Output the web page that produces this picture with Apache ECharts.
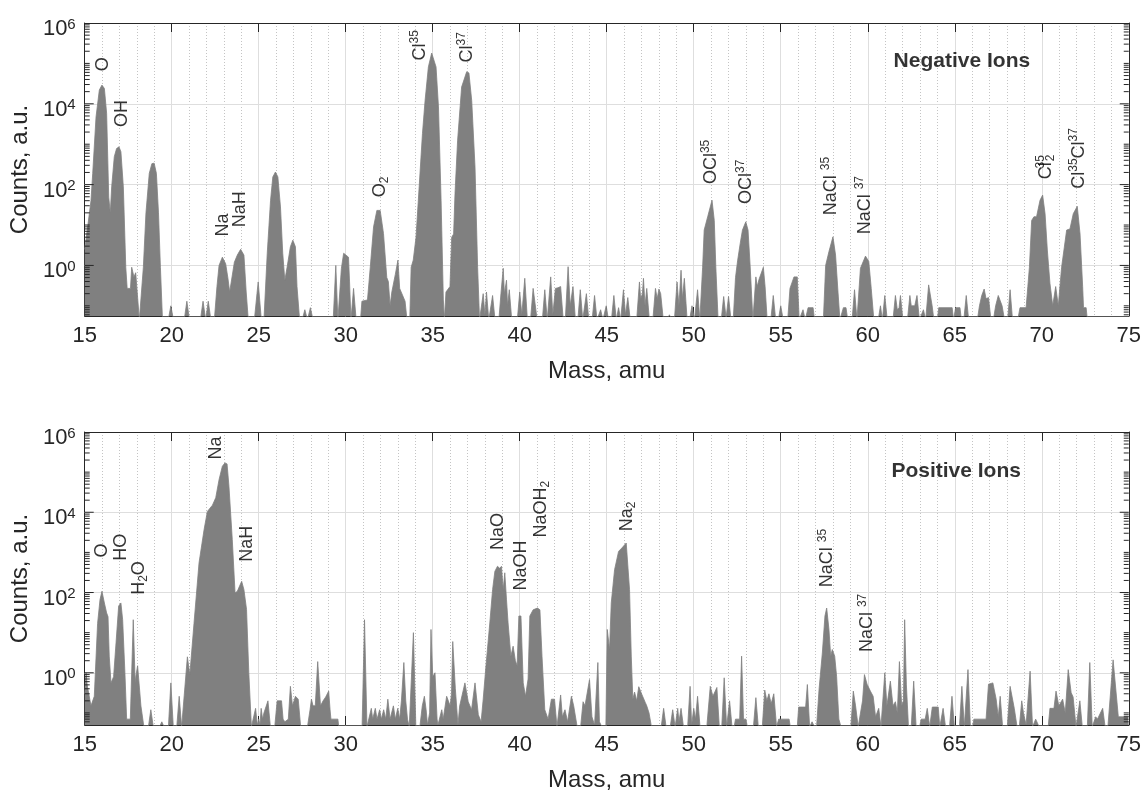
<!DOCTYPE html>
<html><head><meta charset="utf-8">
<script src="https://cdn.jsdelivr.net/npm/echarts@6/dist/echarts.min.js"></script>
<style>html,body{margin:0;padding:0;background:#fff}#c{width:1144px;height:793px}</style>
</head><body><div id="c"></div>
<script>
// ---------- DATA ----------
// Negative ions spectrum: [mass (amu), counts (a.u.)]; 0.045 = no counts (below axis floor)
const negSpectrum = [
[15.00,2.5],[15.17,9],[15.36,40],[15.46,190],[15.65,4700],[15.84,2.2e4],[15.99,2.9e4],[16.13,2.4e4],[16.26,5800],[16.38,49],[16.47,20],[16.55,88],[16.70,490],[16.83,780],[16.97,860],[17.08,650],[17.22,88],[17.36,0.9],[17.44,0.27],[17.63,0.27],[17.70,0.9],[17.83,0.52],[17.93,0.66],[18.04,0.6],[18.14,0.045],
[18.25,0.045],[18.37,0.9],[18.52,20],[18.71,190],[18.86,330],[18.99,340],[19.12,190],[19.24,20],[19.35,0.9],[19.47,0.045],
[19.80,0.045],[19.95,0.1],[20.10,0.045],[20.72,0.045],[20.87,0.13],[21.02,0.045],[21.65,0.045],[21.80,0.13],[21.95,0.045],[22.10,0.13],[22.25,0.045],
[22.45,0.045],[22.60,0.3],[22.72,1.0],[22.91,1.6],[23.10,1.1],[23.23,0.48],[23.33,0.22],[23.40,0.22],[23.60,1.2],[23.77,1.8],[23.96,2.5],[24.15,1.8],[24.28,0.22],[24.40,0.045],
[24.75,0.045],[24.90,0.2],[24.97,0.39],[25.15,0.045],
[25.30,0.045],[25.49,2],[25.68,41],[25.81,155],[25.96,205],[26.10,155],[26.25,28],[26.38,2],[26.50,0.43],[26.63,0.9],[26.82,2.9],[26.96,4.2],[27.11,2.9],[27.20,0.3],[27.35,0.045],
[27.50,0.045],[27.65,0.08],[27.80,0.045],[27.82,0.045],[27.97,0.09],[28.12,0.045],
[29.28,0.045],[29.43,1.0],[29.55,0.045],[29.60,0.045],[29.75,0.84],[29.88,2.0],[29.98,2.2],[30.16,1.6],[30.22,0.39],[30.30,0.045],[30.45,0.27],[30.60,0.045],
[30.85,0.045],[30.93,0.13],[31.25,0.14],[31.41,0.9],[31.60,9],[31.79,23],[31.98,23],[32.17,6.2],[32.36,0.5],[32.45,0.4],[32.55,0.1],
[32.65,0.22],[32.85,0.6],[33.00,1.35],[33.10,0.27],[33.41,0.13],[33.52,0.045],
[33.68,0.045],[33.76,0.9],[33.88,1.35],[33.98,1.4],[34.04,5],[34.15,5.5],[34.22,88],[34.32,95],[34.41,1830],[34.56,1.2e4],[34.75,8.2e4],[34.94,1.8e5],[35.04,1.9e5],[35.19,8.2e4],[35.33,8400],[35.48,41],[35.61,0.14],[35.67,0.045],
[35.71,0.045],[35.76,0.22],[35.99,0.3],[36.09,5],[36.20,6],[36.28,60],[36.43,1260],[36.66,2.6e4],[36.95,6.2e4],[37.08,5.8e4],[37.24,1.2e4],[37.43,275],[37.58,0.9],[37.69,0.045],
[37.75,0.045],[37.90,0.2],[38.00,0.06],[38.09,0.22],[38.22,0.045],[38.30,0.045],[38.44,0.18],[38.58,0.045],
[38.80,0.045],[38.92,0.2],[39.00,0.2],[39.05,0.85],[39.12,0.2],[39.24,0.43],[39.30,0.1],[39.40,0.25],[39.54,0.045],
[39.86,0.045],[40.00,0.22],[40.12,0.06],[40.29,0.48],[40.44,0.045],[40.62,0.045],[40.77,0.27],[40.85,0.27],[41.00,0.045],
[41.30,0.045],[41.44,0.25],[41.58,0.045],[41.64,0.045],[41.78,0.52],[41.90,0.06],[42.05,0.27],[42.20,0.28],[42.35,0.3],[42.50,0.045],
[42.62,0.045],[42.78,0.93],[42.90,0.1],[43.06,0.3],[43.20,0.045],[43.34,0.045],[43.48,0.25],[43.62,0.045],
[43.69,0.045],[43.83,0.2],[43.97,0.045],[44.16,0.045],[44.30,0.18],[44.44,0.045],[44.52,0.045],[44.65,0.08],[44.78,0.045],[44.84,0.045],[44.97,0.1],[45.10,0.045],
[45.27,0.045],[45.41,0.18],[45.55,0.045],[45.58,0.045],[45.68,0.09],[45.80,0.045],[45.82,0.045],[45.96,0.25],[46.08,0.06],[46.21,0.16],[46.35,0.045],
[46.72,0.045],[46.88,0.39],[46.95,0.15],[47.05,0.2],[47.11,0.48],[47.20,0.1],[47.30,0.27],[47.45,0.045],
[47.65,0.045],[47.80,0.27],[47.90,0.15],[48.00,0.26],[48.10,0.2],[48.25,0.045],[48.47,0.045],[48.60,0.06],[48.73,0.045],
[48.89,0.045],[49.04,0.39],[49.15,0.1],[49.27,0.76],[49.35,0.15],[49.46,0.48],[49.62,0.045],[49.76,0.045],[49.90,0.1],[50.04,0.045],[50.08,0.045],[50.22,0.25],[50.35,0.045],
[50.51,0.9],[50.60,7.5],[50.80,16],[51.05,41],[51.18,13],[51.27,0.9],[51.40,0.045],
[51.58,0.045],[51.72,0.17],[51.86,0.05],[52.00,0.17],[52.14,0.045],
[52.27,0.045],[52.40,0.5],[52.52,1.3],[52.67,3.5],[52.80,7.5],[52.99,12],[53.12,7.5],[53.24,1.0],[53.40,0.045],
[53.43,0.045],[53.57,0.52],[53.65,0.3],[53.75,0.45],[54.00,0.9],[54.10,0.3],[54.22,0.045],[54.43,0.045],[54.57,0.18],[54.71,0.045],[54.86,0.045],[55.00,0.1],[55.14,0.045],
[55.40,0.045],[55.53,0.27],[55.76,0.52],[55.95,0.52],[56.06,0.045],[56.15,0.045],[56.28,0.08],[56.41,0.045],[56.50,0.045],[56.57,0.09],[56.86,0.09],[56.94,0.045],
[57.45,0.045],[57.58,1.0],[57.77,2.2],[58.00,5.1],[58.15,1.8],[58.29,0.22],[58.40,0.045],[58.50,0.045],[58.60,0.09],[58.75,0.09],[58.85,0.045],[59.10,0.045],[59.24,0.25],[59.38,0.045],
[59.58,0.85],[59.87,1.7],[60.06,1.25],[60.20,0.27],[60.35,0.045],
[60.60,0.045],[60.73,0.1],[60.84,0.045],[60.98,0.18],[61.12,0.045],[61.45,0.045],[61.59,0.18],[61.70,0.08],[61.80,0.09],[61.88,0.18],[62.02,0.045],
[62.28,0.045],[62.42,0.18],[62.50,0.1],[62.60,0.1],[62.70,0.1],[62.83,0.18],[62.97,0.045],[63.07,0.045],[63.20,0.08],[63.33,0.045],[63.36,0.045],[63.50,0.33],[63.70,0.1],[63.80,0.045],
[64.00,0.045],[64.08,0.09],[64.85,0.09],[64.93,0.045],[64.97,0.045],[65.05,0.09],[65.30,0.09],[65.38,0.045],[65.52,0.045],[65.66,0.18],[65.80,0.045],
[66.30,0.045],[66.42,0.1],[66.55,0.18],[66.69,0.26],[66.80,0.15],[66.94,0.16],[67.08,0.045],[67.22,0.045],[67.35,0.1],[67.50,0.18],[67.61,0.2],[67.72,0.1],[67.86,0.045],
[68.04,0.045],[68.18,0.25],[68.32,0.045],[68.62,0.045],[68.75,0.09],[69.10,0.09],[69.20,0.3],
[69.29,0.9],[69.42,13],[69.55,16],[69.70,16],[69.90,41],[70.05,55],[70.19,19],[70.32,2.4],[70.47,0.36],[70.63,0.1],[70.80,0.3],[70.95,0.1],
[71.14,0.9],[71.43,7.5],[71.62,8],[71.81,19],[72.04,29],[72.20,6],[72.35,0.3],[72.40,0.09],[72.55,0.09],[72.62,0.045],[75.00,0.045]
];

// Positive ions spectrum: [mass (amu), counts (a.u.)]
const posSpectrum = [
[15.00,0.3],[15.08,1.0],[15.14,0.5],[15.36,0.15],[15.55,0.26],[15.74,17],[15.88,67],[15.99,107],[16.13,55],[16.26,31],[16.34,25],[16.41,2.6],[16.51,0.56],[16.66,0.8],[16.80,5.6],[16.95,46],[17.08,55],[17.18,21],[17.31,1],[17.41,0.07],[17.62,0.07],[17.72,0.07],[17.79,21],[17.90,0.56],[17.94,0.83],[18.04,1.5],[18.13,1.5],[18.23,0.15],[18.40,0.045],
[18.66,0.045],[18.80,0.12],[18.94,0.045],[19.30,0.045],[19.43,0.06],[19.56,0.045],[19.81,0.045],[19.95,0.56],[20.09,0.045],[20.29,0.045],[20.43,0.26],[20.57,0.045],
[20.62,0.045],[20.90,2.5],[21.04,0.9],[21.09,0.9],[21.28,17],[21.57,550],[21.86,3700],[22.05,1.05e4],[22.34,1.5e4],[22.53,2.3e4],[22.72,6.5e4],[22.91,1.4e5],[23.06,1.7e5],[23.18,1.6e5],[23.29,4.4e4],[23.48,2100],[23.64,98],[23.77,107],[23.90,145],[24.02,190],[24.15,118],[24.30,38],[24.43,1],[24.58,0.045],
[24.68,0.045],[24.82,0.13],[24.92,0.05],[25.00,0.07],[25.07,0.05],[25.14,0.13],[25.22,0.07],[25.30,0.1],[25.53,0.2],[25.67,0.045],
[25.92,0.045],[26.06,0.2],[26.31,0.2],[26.40,0.07],[26.50,0.06],[26.70,0.07],[26.82,0.46],[26.94,0.15],[27.11,0.26],[27.27,0.22],[27.41,0.045],
[27.80,0.045],[27.95,0.12],[28.03,0.22],[28.12,0.15],[28.25,0.15],[28.39,1.9],[28.55,0.15],[28.70,0.2],[28.85,0.25],[29.02,0.35],[29.10,0.12],[29.15,0.07],[29.55,0.07],[29.60,0.045],
[30.94,0.045],[31.08,21],[31.22,0.045],
[31.33,0.045],[31.47,0.13],[31.55,0.07],[31.70,0.13],[31.80,0.07],[31.95,0.12],[32.05,0.07],[32.18,0.12],[32.30,0.07],[32.42,0.22],[32.55,0.07],[32.74,0.15],[32.85,0.07],[32.99,0.13],[33.10,0.07],[33.20,0.2],[33.34,1.8],[33.45,0.2],[33.55,0.07],[33.65,0.045],
[33.75,0.045],[33.89,10],[34.03,0.045],
[34.26,0.045],[34.40,0.15],[34.52,0.26],[34.62,0.12],[34.70,0.05],[34.82,0.1],[34.90,12],[35.00,0.8],[35.13,1.0],[35.25,0.07],[35.30,0.05],[35.52,0.12],[35.60,0.07],[35.80,0.26],[36.00,0.15],[36.08,0.3],[36.15,6],[36.30,0.4],[36.45,0.05],[36.55,0.15],[36.85,0.56],[37.04,0.19],[37.23,0.12],[37.43,0.56],[37.62,0.09],[37.78,0.06],[37.90,0.22],
[38.06,1.5],[38.28,17.5],[38.44,118],[38.57,336],[38.72,450],[38.85,400],[38.95,450],[39.05,118],[39.14,310],[39.24,66],[39.33,17.5],[39.49,2.6],[39.62,4.6],[39.75,2],[39.85,1.5],[39.95,26],[40.07,26],[40.20,0.56],[40.33,0.26],[40.48,0.7],[40.58,26],[40.77,37],[41.02,41],[41.16,37],[41.28,2.6],[41.44,0.12],[41.63,0.07],[41.82,0.22],[42.00,0.22],[42.14,0.045],
[42.21,0.045],[42.35,0.28],[42.45,0.08],[42.60,0.12],[42.75,0.06],[42.97,0.26],[43.10,0.15],[43.30,0.045],
[43.50,0.045],[43.64,0.19],[43.75,0.15],[44.01,0.68],[44.15,0.08],[44.30,0.05],[44.49,1.8],[44.58,0.06],[44.72,0.045],
[44.95,0.045],[45.03,12],[45.16,3.8],[45.26,55],[45.45,370],[45.68,1060],[45.87,1290],[46.12,1710],[46.21,1600],[46.31,118],[46.41,2.6],[46.50,0.22],[46.60,0.33],[46.72,0.2],[46.84,0.45],[47.03,0.28],[47.22,0.18],[47.30,0.15],[47.43,0.1],[47.57,0.045],
[48.13,0.045],[48.27,0.13],[48.41,0.045],[48.65,0.045],[48.79,0.12],[48.93,0.045],[49.08,0.13],[49.15,0.06],[49.27,0.13],[49.41,0.045],
[49.65,0.045],[49.79,0.46],[49.88,0.05],[50.00,0.13],[50.10,0.07],[50.22,0.26],[50.36,0.045],
[50.75,0.045],[50.95,0.46],[51.10,0.26],[51.33,0.43],[51.47,0.045],[51.61,0.045],[51.75,0.75],[51.89,0.045],[51.92,0.045],[52.06,0.2],[52.20,0.045],
[52.32,0.045],[52.40,0.07],[52.64,0.07],[52.75,2.6],[52.86,0.07],[53.00,0.07],[53.08,0.045],[53.43,0.045],[53.57,0.24],[53.71,0.045],
[53.94,0.045],[54.08,0.37],[54.20,0.2],[54.32,0.3],[54.45,0.17],[54.60,0.3],[54.76,0.045],[54.80,0.045],[54.88,0.07],[55.48,0.07],[55.55,0.045],
[55.95,0.045],[56.03,0.14],[56.43,0.14],[56.53,0.51],[56.66,0.045],[56.80,0.06],[56.94,0.045],
[57.06,0.045],[57.20,0.38],[57.39,3.1],[57.54,26],[57.64,41],[57.77,12],[57.87,2.6],[57.96,3.8],[58.10,2.6],[58.21,0.82],[58.34,0.07],[58.46,0.045],
[59.03,0.045],[59.17,0.35],[59.30,0.15],[59.45,0.045],[59.56,0.045],[59.70,0.2],[59.81,0.9],[59.96,0.52],[60.15,0.35],[60.31,0.26],[60.45,0.08],[60.63,0.13],[60.76,0.045],
[60.84,0.045],[60.98,1.0],[61.10,0.15],[61.30,0.62],[61.45,0.15],[61.59,0.19],[61.70,0.1],[61.82,1.9],[61.95,0.15],[62.05,0.2],[62.12,21],[62.22,0.5],[62.34,0.045],
[62.50,0.045],[62.64,0.62],[62.78,0.045],[62.98,0.045],[63.07,0.07],[63.30,0.07],[63.42,0.13],[63.56,0.045],[63.62,0.045],[63.71,0.14],[64.05,0.14],[64.14,0.045],[64.19,0.045],[64.33,0.13],[64.47,0.045],
[64.70,0.045],[64.84,0.26],[64.98,0.045],[65.27,0.045],[65.41,0.46],[65.55,0.045],[65.62,0.045],[65.76,1.2],[65.90,0.045],
[66.02,0.045],[66.10,0.07],[66.80,0.07],[66.94,0.52],[67.19,0.56],[67.38,0.22],[67.50,0.08],[67.61,0.26],[67.75,0.045],
[68.02,0.045],[68.18,0.46],[68.42,0.13],[68.58,0.045],[68.71,0.045],[68.85,0.2],[68.95,0.1],[69.10,0.05],[69.33,1.1],[69.47,0.045],[69.55,0.045],[69.65,0.07],[69.75,0.07],[69.85,0.045],
[70.37,0.045],[70.47,0.13],[70.70,0.13],[70.82,0.35],[70.98,0.15],[71.20,0.22],[71.35,0.1],[71.52,1.2],[71.69,0.32],[71.80,0.25],[71.97,0.045],
[72.05,0.045],[72.19,0.2],[72.33,0.045],[72.62,0.045],[72.76,1.8],[72.90,0.045],[72.98,0.045],[73.10,0.08],[73.20,0.07],[73.50,0.13],[73.64,0.045],
[73.80,0.045],[74.10,2.1],[74.40,0.08],[74.95,0.08],[75.00,0.08]
];

// Peak annotations: mass, counts (label centre), text
const negLabelMass   = [16.08, 17.16, 22.95, 23.91, 31.98, 34.27, 36.95, 50.99, 53.0, 57.87, 59.82, 70.23, 72.13];
const negLabelCounts = [9.5e4, 5750, 10, 24.7, 88, 2.8e5, 2.5e5, 365, 117, 92, 31, 275, 445];
const negLabelText   = ['O','OH','Na','NaH','O{sub|2}','Cl{sup|35}','Cl{sup|37}','OCl{sup|35}','OCl{sup|37}','NaCl {sup|35}','NaCl {sup|37}','Cl{supz|35}{sub|2}','Cl{sup|35}Cl{sup|37}'];
const posLabelMass   = [16.01, 17.08, 18.13, 22.52, 24.34, 38.76, 40.05, 41.21, 46.17, 57.67, 59.97];
const posLabelCounts = [1120, 1350, 230, 4e5, 1650, 3330, 470, 1.2e4, 7900, 725, 17.5];
const posLabelText   = ['O','HO','H{sub|2}O','Na','NaH','NaO','NaOH','NaOH{sub|2}','Na{sub|2}','NaCl {sup|35}','NaCl {sup|37}'];
const panelTitles    = [['Negative Ions', 65.41, 1.15e5], ['Positive Ions', 65.08, 1.03e5]];

const massMin = 15, massMax = 75, massStep = 5;
const countMax = 1e6;
const countMin = [0.056, 0.05];
const yGridValues = [1, 100, 1e4];
const yMajorTicks = [1, 100, 1e4, 1e6];
const yMantissas = [1,2,3,4,5,6,7,8,9];
const yDecades = [-2,-1,0,1,2,3,4,5];
const xTitle = 'Mass, amu';
const yTitle = 'Counts, a.u.';

// ---------- CHART ----------
const FONT = 'Liberation Sans, Arial, sans-serif';
const AX = '#262626';
const chart = echarts.init(document.getElementById('c'));

const grids = [
  {left: 82, right: 15, top: 23, height: 293},
  {left: 82, right: 15, top: 432, height: 294}
];

const xAxes = [], yAxes = [], series = [];
const labelRich = {
  sup: {fontSize: 12, lineHeight: 10, verticalAlign: 'top', fontFamily: FONT, color: '#000'},
  supz: {fontSize: 12, lineHeight: 10, verticalAlign: 'top', width: 1, fontFamily: FONT, color: '#000'},
  sub: {fontSize: 12, lineHeight: 10, verticalAlign: 'bottom', fontFamily: FONT, color: '#000'}
};

[0, 1].forEach(g => {
  xAxes.push({
    gridIndex: g, type: 'value', min: massMin, max: massMax, interval: massStep, position: 'bottom',
    axisLine: {show: true, onZero: false, lineStyle: {color: AX, width: 1}},
    axisTick: {show: true, inside: true, length: 9, lineStyle: {color: AX}},
    axisLabel: {fontSize: 22, color: AX, fontFamily: FONT, margin: 9},
    splitLine: {show: true, lineStyle: {color: '#dedede', width: 1}},
    minorTick: {show: false, splitNumber: 5},
    minorSplitLine: {show: true, lineStyle: {color: '#c4c4c4', width: 1, type: [1, 2]}},
    name: xTitle, nameLocation: 'middle', nameGap: 43,
    nameTextStyle: {fontSize: 24, color: AX, fontFamily: FONT}
  });
  xAxes.push({
    gridIndex: g, type: 'value', min: massMin, max: massMax, interval: massStep, position: 'top',
    axisLine: {show: true, onZero: false, lineStyle: {color: AX, width: 1}},
    axisTick: {show: true, inside: true, length: 9, lineStyle: {color: AX}},
    axisLabel: {show: false}, splitLine: {show: false}
  });
  yAxes.push({
    gridIndex: g, type: 'log', logBase: 10, min: countMin[g], max: countMax, position: 'left',
    axisLine: {show: true, onZero: false, lineStyle: {color: AX, width: 1}},
    axisTick: {show: false},
    splitLine: {show: false},
    axisLabel: {
      color: AX, fontFamily: FONT, margin: 9, padding: [12, 0, 0, 0],
      formatter: v => {
        const l = Math.log10(v), e = Math.round(l);
        if (Math.abs(l - e) > 1e-6 || e < 0 || e % 2 !== 0) return '';
        return '{b|10}{s|' + e + '}';
      },
      rich: {
        b: {fontSize: 22, lineHeight: 24, color: AX, fontFamily: FONT},
        s: {fontSize: 15, lineHeight: 12, verticalAlign: 'top', color: AX, fontFamily: FONT}
      }
    },
    name: yTitle, nameLocation: 'middle', nameGap: 50,
    nameTextStyle: {fontSize: 24, color: AX, fontFamily: FONT}
  });
  yAxes.push({
    gridIndex: g, type: 'log', logBase: 10, min: countMin[g], max: countMax, position: 'right',
    axisLine: {show: true, onZero: false, lineStyle: {color: AX, width: 1}},
    axisTick: {show: false}, axisLabel: {show: false}, splitLine: {show: false}
  });

  const spec = g === 0 ? negSpectrum : posSpectrum;
  series.push({
    type: 'line', xAxisIndex: g * 2, yAxisIndex: g * 2, data: spec,
    symbol: 'none', showSymbol: false, clip: true, z: 3, silent: true,
    lineStyle: {color: '#808080', width: 0.8},
    areaStyle: {color: '#808080', opacity: 1, origin: 'start'},
    markLine: {
      silent: true, symbol: 'none', z: 1, animation: false,
      label: {show: false},
      lineStyle: {color: '#dedede', type: 'solid', width: 1},
      data: yGridValues.map(v => ({yAxis: v}))
    }
  });

  // y ticks (log major + minor) on both sides
  const tickData = [];
  yDecades.forEach(d => yMantissas.forEach(m => {
    const v = m * Math.pow(10, d);
    if (v > countMin[g] && v < countMax) {
      const major = yMajorTicks.some(t => Math.abs(t - v) / t < 1e-9) ? 1 : 0;
      tickData.push([massMin, v, major]);
    }
  }));
  series.push({
    type: 'custom', xAxisIndex: g * 2, yAxisIndex: g * 2, data: tickData, z: 5, silent: true,
    renderItem: (params, api) => {
      const v = api.value(1), major = api.value(2);
      const pl = api.coord([massMin, v]), pr = api.coord([massMax, v]);
      const len = major ? 9 : 5;
      const st = {stroke: AX, lineWidth: 1};
      return {type: 'group', children: [
        {type: 'line', shape: {x1: pl[0], y1: pl[1], x2: pl[0] + len, y2: pl[1]}, style: st},
        {type: 'line', shape: {x1: pr[0], y1: pr[1], x2: pr[0] - len, y2: pr[1]}, style: st}
      ]};
    }
  });

  // annotations
  const lm = g === 0 ? negLabelMass : posLabelMass;
  const lc = g === 0 ? negLabelCounts : posLabelCounts;
  const lt = g === 0 ? negLabelText : posLabelText;
  series.push({
    type: 'scatter', xAxisIndex: g * 2, yAxisIndex: g * 2, z: 6, silent: true,
    symbolSize: 1, itemStyle: {color: 'rgba(0,0,0,0)'},
    data: lm.map((m, i) => ({value: [m, lc[i]], label: {formatter: lt[i]}})),
    label: {show: true, position: 'inside', rotate: 90, fontSize: 18, lineHeight: 22,
            color: '#000', fontFamily: FONT, rich: labelRich}
  });
  series.push({
    type: 'scatter', xAxisIndex: g * 2, yAxisIndex: g * 2, z: 6, silent: true,
    symbolSize: 1, itemStyle: {color: 'rgba(0,0,0,0)'},
    data: [{value: [panelTitles[g][1], panelTitles[g][2]], label: {formatter: panelTitles[g][0]}}],
    label: {show: true, position: 'inside', fontSize: 21, fontWeight: 'bold', color: '#000', fontFamily: FONT}
  });
});

chart.setOption({
  animation: false,
  backgroundColor: '#fff',
  grid: grids,
  xAxis: xAxes,
  yAxis: yAxes,
  series: series
});
</script>
</body></html>
